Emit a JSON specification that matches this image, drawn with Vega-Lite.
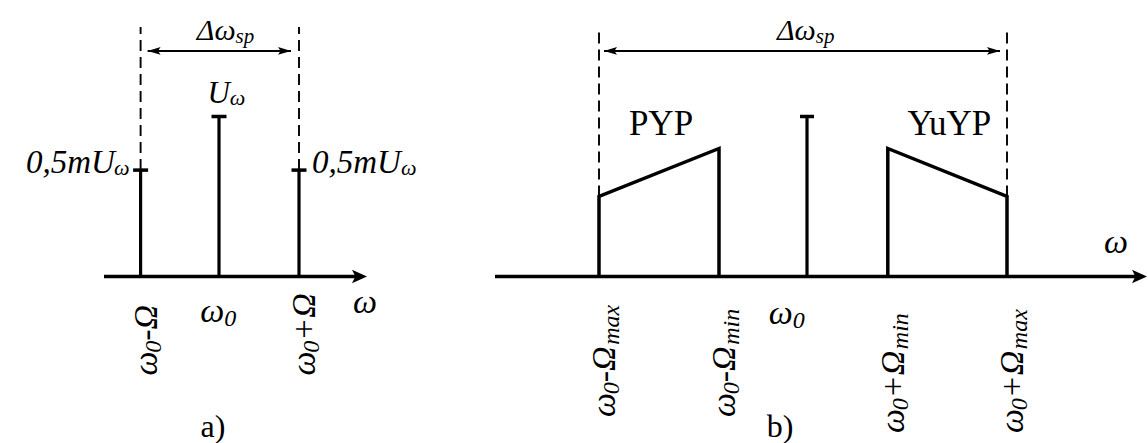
{
  "$schema": "https://vega.github.io/schema/vega-lite/v6.json",
  "padding": 0,
  "background": "white",
  "bounds": "flush",
  "spacing": 0,
  "config": {
    "view": {"stroke": null},
    "mark": {"color": "black"},
    "text": {"font": "Liberation Serif", "fontStyle": "italic", "baseline": "alphabetic", "color": "black"}
  },
  "datasets": {
    "am": [
      {"component": "lower", "freq": -0.98, "amp": 0.665},
      {"component": "carrier", "freq": 0, "amp": 1.0},
      {"component": "upper", "freq": 1.0, "amp": 0.665}
    ],
    "carrierB": [
      {"component": "carrier", "freq": 0, "amp": 1.0}
    ],
    "sidebands": [
      {"band": "PYP", "freq": -2.6, "amp": 0, "seq": 0},
      {"band": "PYP", "freq": -2.6, "amp": 0.5, "seq": 1, "bound": "max"},
      {"band": "PYP", "freq": -1.1, "amp": 0.8, "seq": 2, "bound": "min"},
      {"band": "PYP", "freq": -1.1, "amp": 0, "seq": 3},
      {"band": "YuYP", "freq": 1.01, "amp": 0, "seq": 0},
      {"band": "YuYP", "freq": 1.01, "amp": 0.8, "seq": 1, "bound": "min"},
      {"band": "YuYP", "freq": 2.5, "amp": 0.5, "seq": 2, "bound": "max"},
      {"band": "YuYP", "freq": 2.5, "amp": 0, "seq": 3}
    ],
    "origin": [{}]
  },
  "hconcat": [
    {
      "width": 380,
      "height": 443,
      "data": {"name": "am"},
      "layer": [
        {
          "data": {"name": "origin"},
          "mark": {"type": "rule", "strokeWidth": 3.5, "x2Offset": -6},
          "encoding": {
            "x": {"datum": -1.4375, "type": "quantitative", "scale": {"domain": [-2.7375, 2.0125], "nice": false, "zero": false}, "axis": null},
            "x2": {"datum": 1.85},
            "y": {"datum": 0, "type": "quantitative", "scale": {"domain": [-1.0406, 1.7281], "nice": false, "zero": false}, "axis": null}
          }
        },
        {
          "data": {"name": "origin"},
          "mark": {"type": "point", "shape": "M1,0L-1,-0.9L-0.55,0L-1,0.9Z", "size": 225, "filled": true, "opacity": 1, "strokeWidth": 0, "xOffset": -7.5},
          "encoding": {"x": {"datum": 1.85, "type": "quantitative", "axis": null}, "y": {"datum": 0, "type": "quantitative", "axis": null}}
        },
        {
          "mark": {"type": "rule", "strokeWidth": 3.2},
          "encoding": {"x": {"field": "freq", "type": "quantitative", "axis": null}, "y": {"field": "amp", "type": "quantitative", "axis": null}, "y2": {"datum": 0}}
        },
        {
          "mark": {"type": "tick", "orient": "horizontal", "size": 15, "thickness": 3.5, "opacity": 1},
          "encoding": {"x": {"field": "freq", "type": "quantitative", "axis": null}, "y": {"field": "amp", "type": "quantitative", "axis": null}}
        },
        {
          "transform": [{"filter": "datum.component !== 'carrier'"}],
          "mark": {"type": "rule", "strokeWidth": 1.9, "strokeDash": [11, 6]},
          "encoding": {"x": {"field": "freq", "type": "quantitative", "axis": null}, "y": {"field": "amp", "type": "quantitative", "axis": null}, "y2": {"datum": 1.56}}
        },
        {
          "transform": [
            {"filter": "datum.component !== 'carrier'"},
            {"aggregate": [{"op": "min", "field": "freq", "as": "lo"}, {"op": "max", "field": "freq", "as": "hi"}]}
          ],
          "mark": {"type": "rule", "strokeWidth": 2, "xOffset": 7, "x2Offset": -8},
          "encoding": {"x": {"field": "lo", "type": "quantitative", "axis": null}, "x2": {"field": "hi"}, "y": {"datum": 1.41, "type": "quantitative", "axis": null}}
        },
        {
          "transform": [{"filter": "datum.component === 'lower'"}],
          "mark": {"type": "point", "shape": "M1,0L-1,-0.6L-0.6,0L-1,0.6Z", "size": 169, "filled": true, "opacity": 1, "strokeWidth": 0, "angle": 180, "xOffset": 13.5},
          "encoding": {"x": {"field": "freq", "type": "quantitative", "axis": null}, "y": {"datum": 1.41, "type": "quantitative", "axis": null}}
        },
        {
          "transform": [{"filter": "datum.component === 'upper'"}],
          "mark": {"type": "point", "shape": "M1,0L-1,-0.6L-0.6,0L-1,0.6Z", "size": 169, "filled": true, "opacity": 1, "strokeWidth": 0, "xOffset": -14.5},
          "encoding": {"x": {"field": "freq", "type": "quantitative", "axis": null}, "y": {"datum": 1.41, "type": "quantitative", "axis": null}}
        },
        {
          "transform": [
            {"filter": "datum.component !== 'carrier'"},
            {"aggregate": [{"op": "mean", "field": "freq", "as": "mid"}]}
          ],
          "mark": {"type": "text", "fontSize": 30, "align": "right", "dx": 15.8, "dy": -10.9},
          "encoding": {"x": {"field": "mid", "type": "quantitative", "axis": null}, "y": {"datum": 1.41, "type": "quantitative", "axis": null}, "text": {"value": "Δω"}}
        },
        {
          "transform": [
            {"filter": "datum.component !== 'carrier'"},
            {"aggregate": [{"op": "mean", "field": "freq", "as": "mid"}]}
          ],
          "mark": {"type": "text", "fontSize": 21, "align": "left", "dx": 15.8, "dy": -7.5},
          "encoding": {"x": {"field": "mid", "type": "quantitative", "axis": null}, "y": {"datum": 1.41, "type": "quantitative", "axis": null}, "text": {"value": "sp"}}
        },
        {
          "transform": [{"filter": "datum.component === 'carrier'"}],
          "mark": {"type": "text", "fontSize": 31, "align": "right", "dx": 10.8, "dy": -13.5},
          "encoding": {"x": {"field": "freq", "type": "quantitative", "axis": null}, "y": {"field": "amp", "type": "quantitative", "axis": null}, "text": {"value": "U"}}
        },
        {
          "transform": [{"filter": "datum.component === 'carrier'"}],
          "mark": {"type": "text", "fontSize": 22, "align": "left", "dx": 10.8, "dy": -11.5},
          "encoding": {"x": {"field": "freq", "type": "quantitative", "axis": null}, "y": {"field": "amp", "type": "quantitative", "axis": null}, "text": {"value": "ω"}}
        },
        {
          "transform": [{"filter": "datum.component === 'lower'"}],
          "mark": {"type": "text", "fontSize": 33, "align": "right", "dx": -25.7, "dy": 3},
          "encoding": {"x": {"field": "freq", "type": "quantitative", "axis": null}, "y": {"field": "amp", "type": "quantitative", "axis": null}, "text": {"value": "0,5mU"}}
        },
        {
          "transform": [{"filter": "datum.component === 'lower'"}],
          "mark": {"type": "text", "fontSize": 22, "align": "right", "dx": -11, "dy": 5},
          "encoding": {"x": {"field": "freq", "type": "quantitative", "axis": null}, "y": {"field": "amp", "type": "quantitative", "axis": null}, "text": {"value": "ω"}}
        },
        {
          "transform": [{"filter": "datum.component === 'upper'"}],
          "mark": {"type": "text", "fontSize": 33, "align": "left", "dx": 13, "dy": 3},
          "encoding": {"x": {"field": "freq", "type": "quantitative", "axis": null}, "y": {"field": "amp", "type": "quantitative", "axis": null}, "text": {"value": "0,5mU"}}
        },
        {
          "transform": [{"filter": "datum.component === 'upper'"}],
          "mark": {"type": "text", "fontSize": 22, "align": "left", "dx": 101.9, "dy": 5},
          "encoding": {"x": {"field": "freq", "type": "quantitative", "axis": null}, "y": {"field": "amp", "type": "quantitative", "axis": null}, "text": {"value": "ω"}}
        },
        {
          "transform": [{"filter": "datum.component === 'carrier'"}],
          "mark": {"type": "text", "fontSize": 34, "align": "right", "dx": 5.3, "dy": 45.5},
          "encoding": {"x": {"field": "freq", "type": "quantitative", "axis": null}, "y": {"datum": 0, "type": "quantitative", "axis": null}, "text": {"value": "ω"}}
        },
        {
          "transform": [{"filter": "datum.component === 'carrier'"}],
          "mark": {"type": "text", "fontSize": 24, "align": "left", "dx": 5.3, "dy": 49},
          "encoding": {"x": {"field": "freq", "type": "quantitative", "axis": null}, "y": {"datum": 0, "type": "quantitative", "axis": null}, "text": {"value": "0"}}
        },
        {
          "transform": [{"filter": "datum.component !== 'carrier'"}],
          "mark": {"type": "text", "fontSize": 34, "angle": 270, "align": "left", "dx": 0, "dy": 16},
          "encoding": {"x": {"field": "freq", "type": "quantitative", "axis": null}, "y": {"datum": -0.6187, "type": "quantitative", "axis": null}, "text": {"value": "ω"}}
        },
        {
          "transform": [{"filter": "datum.component !== 'carrier'"}],
          "mark": {"type": "text", "fontSize": 24, "angle": 270, "align": "left", "dx": 22.7, "dy": 20},
          "encoding": {"x": {"field": "freq", "type": "quantitative", "axis": null}, "y": {"datum": -0.6187, "type": "quantitative", "axis": null}, "text": {"value": "0"}}
        },
        {
          "transform": [{"filter": "datum.component === 'lower'"}],
          "mark": {"type": "text", "fontSize": 34, "angle": 270, "align": "left", "dx": 34.7, "dy": 16},
          "encoding": {"x": {"field": "freq", "type": "quantitative", "axis": null}, "y": {"datum": -0.6187, "type": "quantitative", "axis": null}, "text": {"value": "-Ω"}}
        },
        {
          "transform": [{"filter": "datum.component === 'upper'"}],
          "mark": {"type": "text", "fontSize": 34, "angle": 270, "align": "left", "dx": 34.7, "dy": 16},
          "encoding": {"x": {"field": "freq", "type": "quantitative", "axis": null}, "y": {"datum": -0.6187, "type": "quantitative", "axis": null}, "text": {"value": "+Ω"}}
        },
        {
          "data": {"name": "origin"},
          "mark": {"type": "text", "fontSize": 34, "align": "center", "dx": -2, "dy": 36.5},
          "encoding": {"x": {"datum": 1.85, "type": "quantitative", "axis": null}, "y": {"datum": 0, "type": "quantitative", "axis": null}, "text": {"value": "ω"}}
        },
        {
          "transform": [{"filter": "datum.component === 'carrier'"}],
          "mark": {"type": "text", "fontSize": 32, "fontStyle": "normal", "align": "center", "dx": -6, "dy": 160.5},
          "encoding": {"x": {"field": "freq", "type": "quantitative", "axis": null}, "y": {"datum": 0, "type": "quantitative", "axis": null}, "text": {"value": "a)"}}
        }
      ]
    },
    {
      "width": 768,
      "height": 443,
      "data": {"name": "sidebands"},
      "layer": [
        {
          "data": {"name": "origin"},
          "mark": {"type": "rule", "strokeWidth": 3.5, "x2Offset": -6},
          "encoding": {
            "x": {"datum": -3.9, "type": "quantitative", "scale": {"domain": [-5.3375, 4.2625], "nice": false, "zero": false}, "axis": null},
            "x2": {"datum": 4.25},
            "y": {"datum": 0, "type": "quantitative", "scale": {"domain": [-1.0406, 1.7281], "nice": false, "zero": false}, "axis": null}
          }
        },
        {
          "data": {"name": "origin"},
          "mark": {"type": "point", "shape": "M1,0L-1,-0.9L-0.55,0L-1,0.9Z", "size": 225, "filled": true, "opacity": 1, "strokeWidth": 0, "xOffset": -7.5},
          "encoding": {"x": {"datum": 4.25, "type": "quantitative", "axis": null}, "y": {"datum": 0, "type": "quantitative", "axis": null}}
        },
        {
          "mark": {"type": "line", "strokeWidth": 3.5, "strokeJoin": "miter"},
          "encoding": {
            "x": {"field": "freq", "type": "quantitative", "axis": null},
            "y": {"field": "amp", "type": "quantitative", "axis": null},
            "detail": {"field": "band", "type": "nominal"},
            "order": {"field": "seq", "type": "quantitative"}
          }
        },
        {
          "data": {"name": "carrierB"},
          "mark": {"type": "rule", "strokeWidth": 3.2},
          "encoding": {"x": {"field": "freq", "type": "quantitative", "axis": null}, "y": {"field": "amp", "type": "quantitative", "axis": null}, "y2": {"datum": 0}}
        },
        {
          "data": {"name": "carrierB"},
          "mark": {"type": "tick", "orient": "horizontal", "size": 14, "thickness": 3.5, "opacity": 1},
          "encoding": {"x": {"field": "freq", "type": "quantitative", "axis": null}, "y": {"field": "amp", "type": "quantitative", "axis": null}}
        },
        {
          "transform": [{"filter": "datum.bound === 'max'"}],
          "mark": {"type": "rule", "strokeWidth": 1.9, "strokeDash": [11, 6]},
          "encoding": {"x": {"field": "freq", "type": "quantitative", "axis": null}, "y": {"field": "amp", "type": "quantitative", "axis": null}, "y2": {"datum": 1.56}}
        },
        {
          "transform": [
            {"filter": "datum.bound === 'max'"},
            {"aggregate": [{"op": "min", "field": "freq", "as": "lo"}, {"op": "max", "field": "freq", "as": "hi"}]}
          ],
          "mark": {"type": "rule", "strokeWidth": 2, "xOffset": 5, "x2Offset": -7},
          "encoding": {"x": {"field": "lo", "type": "quantitative", "axis": null}, "x2": {"field": "hi"}, "y": {"datum": 1.41, "type": "quantitative", "axis": null}}
        },
        {
          "transform": [{"filter": "datum.bound === 'max' && datum.band === 'PYP'"}],
          "mark": {"type": "point", "shape": "M1,0L-1,-0.6L-0.6,0L-1,0.6Z", "size": 169, "filled": true, "opacity": 1, "strokeWidth": 0, "angle": 180, "xOffset": 11.5},
          "encoding": {"x": {"field": "freq", "type": "quantitative", "axis": null}, "y": {"datum": 1.41, "type": "quantitative", "axis": null}}
        },
        {
          "transform": [{"filter": "datum.bound === 'max' && datum.band === 'YuYP'"}],
          "mark": {"type": "point", "shape": "M1,0L-1,-0.6L-0.6,0L-1,0.6Z", "size": 169, "filled": true, "opacity": 1, "strokeWidth": 0, "xOffset": -13.5},
          "encoding": {"x": {"field": "freq", "type": "quantitative", "axis": null}, "y": {"datum": 1.41, "type": "quantitative", "axis": null}}
        },
        {
          "transform": [
            {"filter": "datum.bound === 'max'"},
            {"aggregate": [{"op": "mean", "field": "freq", "as": "mid"}]}
          ],
          "mark": {"type": "text", "fontSize": 30, "align": "right", "dx": 12.8, "dy": -10.9},
          "encoding": {"x": {"field": "mid", "type": "quantitative", "axis": null}, "y": {"datum": 1.41, "type": "quantitative", "axis": null}, "text": {"value": "Δω"}}
        },
        {
          "transform": [
            {"filter": "datum.bound === 'max'"},
            {"aggregate": [{"op": "mean", "field": "freq", "as": "mid"}]}
          ],
          "mark": {"type": "text", "fontSize": 21, "align": "left", "dx": 12.8, "dy": -7.5},
          "encoding": {"x": {"field": "mid", "type": "quantitative", "axis": null}, "y": {"datum": 1.41, "type": "quantitative", "axis": null}, "text": {"value": "sp"}}
        },
        {
          "transform": [
            {"aggregate": [{"op": "mean", "field": "freq", "as": "mid"}, {"op": "max", "field": "amp", "as": "peak"}], "groupby": ["band"]}
          ],
          "mark": {"type": "text", "fontSize": 35, "fontStyle": "normal", "align": "center", "dx": 2, "dy": -13.5},
          "encoding": {"x": {"field": "mid", "type": "quantitative", "axis": null}, "y": {"field": "peak", "type": "quantitative", "axis": null}, "text": {"field": "band", "type": "nominal"}}
        },
        {
          "data": {"name": "carrierB"},
          "mark": {"type": "text", "fontSize": 34, "align": "right", "dx": -14.2, "dy": 47.5},
          "encoding": {"x": {"field": "freq", "type": "quantitative", "axis": null}, "y": {"datum": 0, "type": "quantitative", "axis": null}, "text": {"value": "ω"}}
        },
        {
          "data": {"name": "carrierB"},
          "mark": {"type": "text", "fontSize": 24, "align": "left", "dx": -14.2, "dy": 51},
          "encoding": {"x": {"field": "freq", "type": "quantitative", "axis": null}, "y": {"datum": 0, "type": "quantitative", "axis": null}, "text": {"value": "0"}}
        },
        {
          "transform": [{"filter": "datum.band === 'PYP' && datum.bound"}],
          "mark": {"type": "text", "fontSize": 34, "angle": 270, "align": "left", "dx": 0, "dy": 16},
          "encoding": {"x": {"field": "freq", "type": "quantitative", "axis": null}, "y": {"datum": -0.878, "type": "quantitative", "axis": null}, "text": {"value": "ω"}}
        },
        {
          "transform": [{"filter": "datum.band === 'PYP' && datum.bound"}],
          "mark": {"type": "text", "fontSize": 24, "angle": 270, "align": "left", "dx": 22.7, "dy": 20},
          "encoding": {"x": {"field": "freq", "type": "quantitative", "axis": null}, "y": {"datum": -0.878, "type": "quantitative", "axis": null}, "text": {"value": "0"}}
        },
        {
          "transform": [{"filter": "datum.band === 'PYP' && datum.bound"}],
          "mark": {"type": "text", "fontSize": 34, "angle": 270, "align": "left", "dx": 34.7, "dy": 16},
          "encoding": {"x": {"field": "freq", "type": "quantitative", "axis": null}, "y": {"datum": -0.878, "type": "quantitative", "axis": null}, "text": {"value": "-Ω"}}
        },
        {
          "transform": [{"filter": "datum.band === 'PYP' && datum.bound"}],
          "mark": {"type": "text", "fontSize": 24, "angle": 270, "align": "left", "dx": 72.2, "dy": 20},
          "encoding": {"x": {"field": "freq", "type": "quantitative", "axis": null}, "y": {"datum": -0.878, "type": "quantitative", "axis": null}, "text": {"field": "bound", "type": "nominal"}}
        },
        {
          "transform": [{"filter": "datum.band === 'YuYP' && datum.bound"}],
          "mark": {"type": "text", "fontSize": 34, "angle": 270, "align": "left", "dx": 0, "dy": 16},
          "encoding": {"x": {"field": "freq", "type": "quantitative", "axis": null}, "y": {"datum": -0.978, "type": "quantitative", "axis": null}, "text": {"value": "ω"}}
        },
        {
          "transform": [{"filter": "datum.band === 'YuYP' && datum.bound"}],
          "mark": {"type": "text", "fontSize": 24, "angle": 270, "align": "left", "dx": 22.7, "dy": 20},
          "encoding": {"x": {"field": "freq", "type": "quantitative", "axis": null}, "y": {"datum": -0.978, "type": "quantitative", "axis": null}, "text": {"value": "0"}}
        },
        {
          "transform": [{"filter": "datum.band === 'YuYP' && datum.bound"}],
          "mark": {"type": "text", "fontSize": 34, "angle": 270, "align": "left", "dx": 34.7, "dy": 16},
          "encoding": {"x": {"field": "freq", "type": "quantitative", "axis": null}, "y": {"datum": -0.978, "type": "quantitative", "axis": null}, "text": {"value": "+Ω"}}
        },
        {
          "transform": [{"filter": "datum.band === 'YuYP' && datum.bound"}],
          "mark": {"type": "text", "fontSize": 24, "angle": 270, "align": "left", "dx": 83.8, "dy": 20},
          "encoding": {"x": {"field": "freq", "type": "quantitative", "axis": null}, "y": {"datum": -0.978, "type": "quantitative", "axis": null}, "text": {"field": "bound", "type": "nominal"}}
        },
        {
          "data": {"name": "origin"},
          "mark": {"type": "text", "fontSize": 34, "align": "center", "dx": -31, "dy": -23.5},
          "encoding": {"x": {"datum": 4.25, "type": "quantitative", "axis": null}, "y": {"datum": 0, "type": "quantitative", "axis": null}, "text": {"value": "ω"}}
        },
        {
          "data": {"name": "carrierB"},
          "mark": {"type": "text", "fontSize": 32, "fontStyle": "normal", "align": "center", "dx": -27, "dy": 160.5},
          "encoding": {"x": {"field": "freq", "type": "quantitative", "axis": null}, "y": {"datum": 0, "type": "quantitative", "axis": null}, "text": {"value": "b)"}}
        }
      ]
    }
  ]
}
